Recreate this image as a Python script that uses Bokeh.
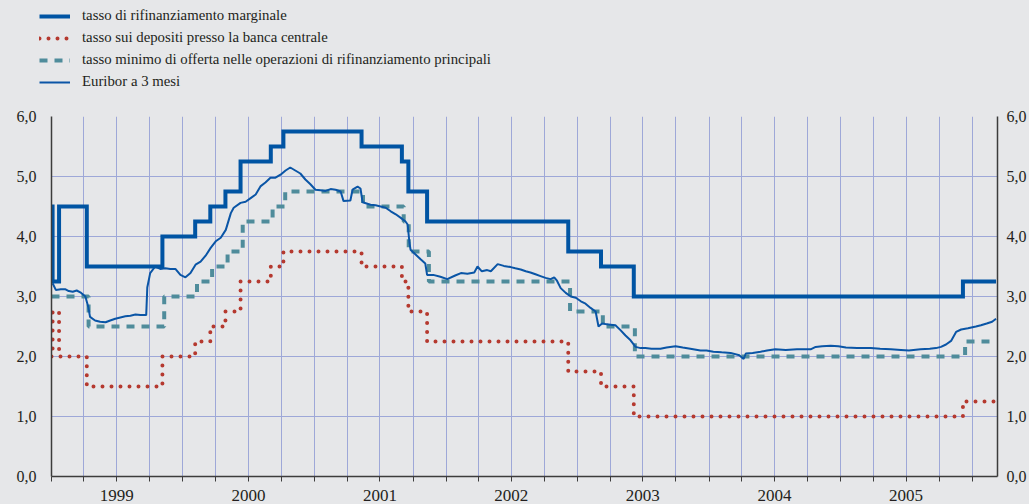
import pandas as pd
from bokeh.plotting import figure
from bokeh.layouts import column
from bokeh.models import (FixedTicker, LinearAxis, Legend, LegendItem,
                          DatetimeTickFormatter, Range1d, CustomJSTickFormatter)
from bokeh.embed import file_html
from bokeh.resources import INLINE

# ---------------- data ----------------
series_names = [
    "tasso di rifinanziamento marginale",
    "tasso sui depositi presso la banca centrale",
    "tasso minimo di offerta nelle operazioni di rifinanziamento principali",
    "Euribor a 3 mesi",
]

corridor_dates = ["1999-01-01", "1999-01-04", "1999-01-22", "1999-04-09", "1999-11-05",
                  "2000-02-04", "2000-03-17", "2000-04-28", "2000-06-09", "2000-09-01",
                  "2000-10-06", "2001-05-11", "2001-08-31", "2001-09-18", "2001-11-09",
                  "2002-12-06", "2003-03-07", "2003-06-06", "2005-12-06", "2006-03-08"]
marginal_rate = [4.50, 3.25, 4.50, 3.50, 4.00, 4.25, 4.50, 4.75, 5.25, 5.50,
                 5.75, 5.50, 5.25, 4.75, 4.25, 3.75, 3.50, 3.00, 3.25, 3.25]
deposit_rate = [2.00, 2.75, 2.00, 1.50, 2.00, 2.25, 2.50, 2.75, 3.25, 3.50,
                3.75, 3.50, 3.25, 2.75, 2.25, 1.75, 1.50, 1.00, 1.25, 1.25]

mro_dates = ["1999-01-01", "1999-04-14", "1999-11-10", "2000-02-09", "2000-03-22",
             "2000-05-04", "2000-06-15", "2000-09-06", "2000-10-11", "2001-05-15",
             "2001-09-05", "2001-09-19", "2001-11-14", "2002-12-11", "2003-03-12",
             "2003-06-09", "2005-12-12", "2006-03-08"]
mro_rate = [3.00, 2.50, 3.00, 3.25, 3.50, 3.75, 4.25, 4.50, 4.75, 4.50,
            4.25, 3.75, 3.25, 2.75, 2.50, 2.00, 2.25, 2.25]

euribor_dates = [
    "1999-01-04", "1999-01-13", "1999-01-27", "1999-02-09", "1999-02-18", "1999-03-01",
    "1999-03-12", "1999-03-22", "1999-04-05", "1999-04-13", "1999-04-18", "1999-05-02",
    "1999-05-16", "1999-05-31", "1999-06-13", "1999-06-27", "1999-07-11", "1999-07-25",
    "1999-08-08", "1999-08-22", "1999-09-05", "1999-09-21", "1999-09-24", "1999-10-02",
    "1999-10-16", "1999-10-30", "1999-11-13", "1999-11-27", "1999-12-11", "1999-12-25",
    "2000-01-08", "2000-01-22", "2000-02-05", "2000-02-19", "2000-03-04", "2000-03-18",
    "2000-04-01", "2000-04-15", "2000-04-29", "2000-05-13", "2000-05-21", "2000-06-09",
    "2000-06-23", "2000-07-07", "2000-07-21", "2000-08-04", "2000-08-17", "2000-08-31",
    "2000-09-14", "2000-09-28", "2000-10-12", "2000-10-25", "2000-11-08", "2000-11-22",
    "2000-12-06", "2000-12-20", "2001-01-03", "2001-01-17", "2001-01-31", "2001-02-14",
    "2001-02-28", "2001-03-14", "2001-03-22", "2001-04-10", "2001-04-16", "2001-04-30",
    "2001-05-08", "2001-05-14", "2001-06-05", "2001-06-19", "2001-07-03", "2001-07-17",
    "2001-07-31", "2001-08-14", "2001-08-28", "2001-09-10", "2001-09-16", "2001-09-21",
    "2001-09-24", "2001-10-08", "2001-10-22", "2001-11-04", "2001-11-09", "2001-11-26",
    "2001-12-16", "2002-01-04", "2002-01-26", "2002-02-11", "2002-03-01", "2002-03-20",
    "2002-03-29", "2002-04-10", "2002-04-25", "2002-05-05", "2002-05-24", "2002-06-10",
    "2002-06-29", "2002-07-12", "2002-07-27", "2002-08-10", "2002-08-23", "2002-09-06",
    "2002-09-20", "2002-10-04", "2002-10-18", "2002-10-28", "2002-11-04", "2002-11-15",
    "2002-11-29", "2002-12-13", "2002-12-27", "2003-01-10", "2003-01-23", "2003-02-06",
    "2003-02-20", "2003-02-28", "2003-03-10", "2003-03-19", "2003-04-02", "2003-04-16",
    "2003-04-30", "2003-05-14", "2003-05-28", "2003-06-11", "2003-06-25", "2003-07-08",
    "2003-07-25", "2003-08-19", "2003-09-05", "2003-09-30", "2003-10-20", "2003-11-10",
    "2003-12-08", "2003-12-25", "2004-01-13", "2004-02-05", "2004-03-01", "2004-03-25",
    "2004-04-06", "2004-04-12", "2004-05-01", "2004-05-23", "2004-06-10", "2004-07-03",
    "2004-08-01", "2004-09-01", "2004-10-09", "2004-10-23", "2004-11-10", "2004-12-04",
    "2004-12-25", "2005-01-15", "2005-02-15", "2005-03-25", "2005-04-20", "2005-05-20",
    "2005-06-17", "2005-07-09", "2005-08-10", "2005-09-05", "2005-09-22", "2005-10-06",
    "2005-10-20", "2005-11-03", "2005-11-17", "2005-12-01", "2005-12-20", "2006-01-11",
    "2006-01-25", "2006-02-10", "2006-02-25", "2006-03-08",
]
euribor_3m = [
    3.22, 3.11, 3.12, 3.12, 3.09, 3.08,
    3.10, 3.07, 3.00, 2.83, 2.66, 2.60,
    2.58, 2.57, 2.60, 2.63, 2.65, 2.67,
    2.68, 2.70, 2.69, 2.69, 3.15, 3.39,
    3.50, 3.46, 3.47, 3.46, 3.46, 3.36,
    3.32, 3.39, 3.53, 3.58, 3.68, 3.81,
    3.92, 3.98, 4.11, 4.39, 4.48, 4.56,
    4.58, 4.64, 4.70, 4.84, 4.90, 4.98,
    4.98, 5.03, 5.10, 5.15, 5.10, 5.05,
    4.95, 4.87, 4.78, 4.77, 4.76, 4.79,
    4.78, 4.75, 4.59, 4.60, 4.78, 4.83,
    4.80, 4.57, 4.53, 4.52, 4.50, 4.48,
    4.42, 4.37, 4.31, 4.25, 4.20, 3.90,
    3.78, 3.70, 3.62, 3.55, 3.36, 3.36,
    3.33, 3.29, 3.35, 3.39, 3.38, 3.40,
    3.50, 3.42, 3.44, 3.42, 3.54, 3.51,
    3.49, 3.47, 3.45, 3.42, 3.40, 3.37,
    3.34, 3.31, 3.29, 3.32, 3.27, 3.14,
    3.06, 3.00, 2.98, 2.92, 2.88, 2.81,
    2.75, 2.50, 2.55, 2.54, 2.53, 2.52,
    2.44, 2.35, 2.27, 2.16, 2.14, 2.14,
    2.13, 2.13, 2.15, 2.17, 2.15, 2.13,
    2.10, 2.10, 2.08, 2.07, 2.06, 2.02,
    1.96, 2.05, 2.06, 2.08, 2.10, 2.12,
    2.11, 2.12, 2.12, 2.16, 2.17, 2.18,
    2.17, 2.15, 2.14, 2.14, 2.13, 2.12,
    2.11, 2.10, 2.12, 2.13, 2.14, 2.16,
    2.20, 2.26, 2.41, 2.45, 2.47, 2.50,
    2.52, 2.55, 2.58, 2.63,
]

years = [1999, 2000, 2001, 2002, 2003, 2004, 2005]
y_ticks = [0, 1, 2, 3, 4, 5, 6]
x_start, x_end = "1999-01-01", "2006-03-12"

# ---------------- styling ----------------
BG = "#e6e7e9"
GRID = "#9ea8d8"
AXIS = "#3c3c3c"
TEXT = "#231f20"
FONT = "Liberation Serif"

C_MLF, C_DEP, C_MRO, C_EUR = "#0054a3", "#b5392f", "#4f8c9b", "#0a55a6"
STYLES = [
    dict(line_width=4, line_color=C_MLF, line_join="miter"),
    dict(line_width=4, line_color=C_DEP, line_dash="0 9", line_cap="round"),
    dict(line_width=4, line_color=C_MRO, line_dash="8 7"),
    dict(line_width=2, line_color=C_EUR),
]


def ms(s):
    return pd.Timestamp(s).value // 10**6


quarters = [ms(f"{y}-{m:02d}-01") for y in range(1999, 2007) for m in (1, 4, 7, 10)]
quarters = [q for q in quarters if ms(x_start) <= q <= ms(x_end)]
mid_years = [ms(f"{y}-07-01") for y in years]

cd = pd.to_datetime(corridor_dates)
md = pd.to_datetime(mro_dates)
ed = pd.to_datetime(euribor_dates)

W = 1029
LEG_H = 104
MAIN_H = 400

# ---------------- legend strip (its series lie outside its visible range) ----------------
pl = figure(width=W, height=LEG_H, x_axis_type="datetime",
            x_range=Range1d(pd.Timestamp(x_start), pd.Timestamp(x_end)),
            y_range=Range1d(100, 101),
            output_backend="svg", toolbar_location=None,
            x_axis_location=None, y_axis_location=None,
            background_fill_color=BG, border_fill_color=BG, outline_line_color=None,
            min_border=0, min_border_left=0, min_border_right=0,
            min_border_top=0, min_border_bottom=0)
pl.xgrid.visible = False
pl.ygrid.visible = False
leg_renderers = [
    pl.step(cd, marginal_rate, mode="after", **STYLES[0]),
    pl.step(cd, deposit_rate, mode="after", **STYLES[1]),
    pl.step(md, mro_rate, mode="after", **STYLES[2]),
    pl.line(ed, euribor_3m, **STYLES[3]),
]
legend = Legend(items=[LegendItem(label=n, renderers=[r])
                       for n, r in zip(series_names, leg_renderers)],
                location=(39, 12.5))
legend.background_fill_alpha = 0
legend.border_line_color = None
legend.padding = 0
legend.margin = 0
legend.spacing = 2
legend.label_height = 20
legend.glyph_height = 20
legend.glyph_width = 31
legend.label_standoff = 12
legend.label_text_font = FONT
legend.label_text_font_size = "14.8px"
legend.label_text_color = TEXT
pl.add_layout(legend)

# ---------------- main chart ----------------
p = figure(width=W, height=MAIN_H, x_axis_type="datetime",
           x_range=Range1d(pd.Timestamp(x_start), pd.Timestamp(x_end)),
           y_range=Range1d(0, 6),
           output_backend="svg", toolbar_location=None,
           background_fill_color=BG, border_fill_color=BG,
           outline_line_color=None,
           min_border_left=51, min_border_right=32, min_border_top=12, min_border_bottom=28)

for fig in (pl, p):
    if "frame_align" in fig.properties():
        fig.frame_align = False

p.xgrid.ticker = FixedTicker(ticks=quarters[1:])
p.ygrid.ticker = FixedTicker(ticks=y_ticks[1:])
for g in (p.xgrid, p.ygrid):
    g.grid_line_color = GRID
    g.grid_line_width = 1

xa = p.xaxis[0]
xa.ticker = FixedTicker(ticks=mid_years, minor_ticks=quarters)
xa.formatter = DatetimeTickFormatter(years="%Y", months="%Y", days="%Y", hours="%Y",
                                     minutes="%Y", seconds="%Y", milliseconds="%Y",
                                     microseconds="%Y")
xa.major_tick_out = 0
xa.major_tick_in = 0
xa.minor_tick_out = 5
xa.minor_tick_in = 0
xa.minor_tick_line_color = AXIS
xa.axis_line_color = AXIS
xa.axis_line_width = 1.5
xa.major_label_standoff = 8
xa.major_label_text_font = FONT
xa.major_label_text_font_size = "17px"
xa.major_label_text_color = TEXT

fmt = CustomJSTickFormatter(code="return tick.toFixed(1).replace('.', ',');")
ya = p.yaxis[0]
ra = LinearAxis()
p.add_layout(ra, "right")
for ax, standoff in ((ya, 15), (ra, 9)):
    ax.ticker = FixedTicker(ticks=y_ticks)
    ax.formatter = fmt
    ax.major_tick_out = 0
    ax.major_tick_in = 0
    ax.minor_tick_out = 0
    ax.minor_tick_in = 0
    ax.axis_line_color = AXIS
    ax.axis_line_width = 1.5
    ax.major_label_standoff = standoff
    ax.major_label_text_font = FONT
    ax.major_label_text_font_size = "16px"
    ax.major_label_text_color = TEXT

p.step(cd, deposit_rate, mode="after", **STYLES[1])
p.step(md, mro_rate, mode="after", **STYLES[2])
p.line(ed, euribor_3m, **STYLES[3])
p.step(cd, marginal_rate, mode="after", **STYLES[0])

layout = column(pl, p, spacing=0)

html = file_html(layout, INLINE)
html = html.replace("</head>",
                    "<style>html, body { background-color: #e6e7e9; }</style></head>", 1)
open("out.html", "w").write(html)
